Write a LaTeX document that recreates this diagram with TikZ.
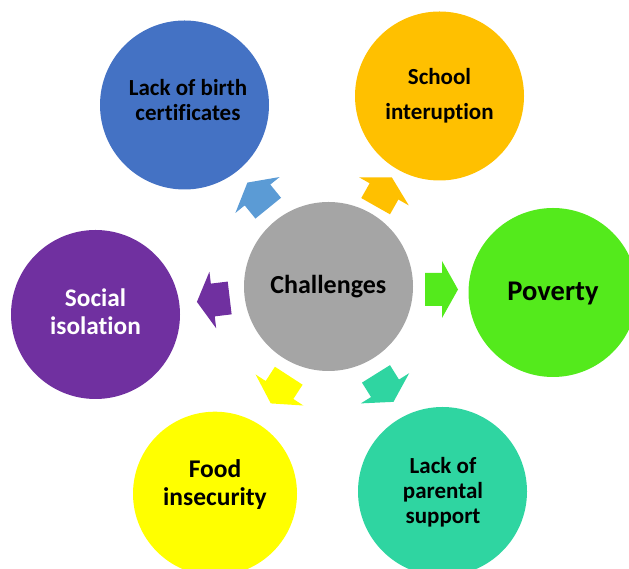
\documentclass[tikz,border=0pt]{standalone}
\usepackage{fontspec}
\setmainfont{Carlito}[Ligatures=NoCommon]
\definecolor{cGray}{HTML}{A5A5A5}
\definecolor{cBlue}{HTML}{4472C4}
\definecolor{cBlueA}{HTML}{5B9BD5}
\definecolor{cOrange}{HTML}{FFC000}
\definecolor{cGreen}{RGB}{84,234,28}
\definecolor{cTeal}{RGB}{47,213,161}
\definecolor{cYellow}{HTML}{FFFF00}
\definecolor{cPurple}{HTML}{7030A0}
\begin{document}
\begin{tikzpicture}[x=1pt,y=1pt,
  disc/.style={circle, draw=none, inner sep=0pt, minimum size=169pt},
  lbl/.style={align=center, inner sep=0pt, text=black},
  pics/blockarrow/.style={code={%
    \fill[#1] (-17,-16.5) -- (0,-16.5) -- (0,-28.5) -- (16,0) -- (0,28.5) -- (0,16.5) -- (-17,16.5) -- cycle;}}
]
\useasboundingbox (0,0) rectangle (629,569);
% circles
\node[disc, fill=cGray]   (center)  at (328.5,282.5) {};
\node[disc, fill=cBlue]   (birth)   at (184.5,464) {};
\node[disc, fill=cOrange] (school)  at (439.5,473) {};
\node[disc, fill=cGreen]  (poverty) at (553,276.5) {};
\node[disc, fill=cTeal]   (parent)  at (442.5,77.5) {};
\node[disc, fill=cYellow, minimum size=164pt] (food) at (215,75.3) {};
\node[disc, fill=cPurple] (social)  at (95.5,254.5) {};
% arrows
\pic[rotate=129.1] at (257.5,374) {blockarrow=cBlueA};
\pic[rotate=60.5]  at (384,377.6) {blockarrow=cOrange};
\pic[rotate=0]     at (442,279.5) {blockarrow=cGreen};
\pic[rotate=-58]   at (385,180.7) {blockarrow=cTeal};
\pic[rotate=-123]  at (279.5,179) {blockarrow=cYellow};
\pic[rotate=186.8] at (212.8,269) {blockarrow=cPurple};
% labels
\node[lbl, font={\fontsize{26}{30}\selectfont\bfseries}] (tCenter) at (328.3,282.2) {Challenges};
\node[lbl, font={\fontsize{23}{25}\selectfont\bfseries}] (tBirth) at (188,469) {Lack of birth\\certificates};
\node[lbl, font={\fontsize{23}{35}\selectfont\bfseries}] (tSchool) at (439.5,473.25) {School\\interuption};
\node[lbl, font={\fontsize{28.5}{32}\selectfont\bfseries}] (tPoverty) at (553,275.2) {Poverty};
\node[lbl, font={\fontsize{23}{25}\selectfont\bfseries}] (tParent) at (443,76.7) {Lack of\\parental\\support};
\node[lbl, font={\fontsize{25.5}{28}\selectfont\bfseries}] (tFood) at (215,84.4) {Food\\insecurity};
\node[lbl, text=white, font={\fontsize{25.3}{28}\selectfont\bfseries}] (tSocial) at (95.5,257) {Social\\isolation};
\end{tikzpicture}
\end{document}
